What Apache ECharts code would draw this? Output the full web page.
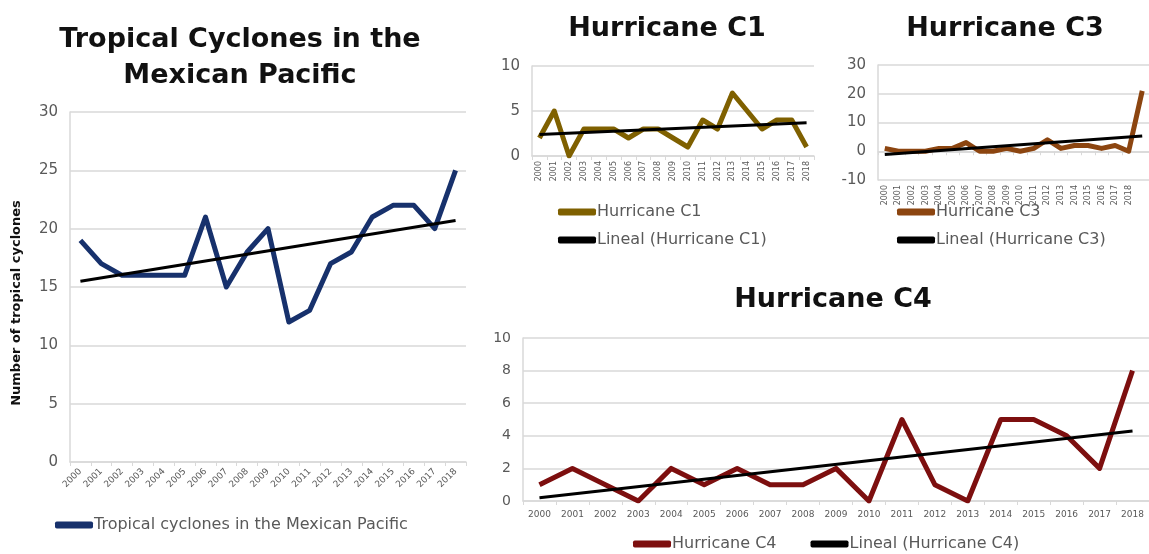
<!DOCTYPE html>
<html>
<head>
<meta charset="utf-8">
<script src="https://cdn.jsdelivr.net/npm/echarts@6/dist/echarts.min.js"></script>
<style>
html,body{margin:0;padding:0;background:#fff;overflow:hidden;}
#chart{width:1149px;height:554px;}
</style>
</head>
<body>
<div id="chart"></div>
<script>
// ---- data ----
const years = ['2000','2001','2002','2003','2004','2005','2006','2007','2008','2009','2010','2011','2012','2013','2014','2015','2016','2017','2018'];
const yearsC3 = ['2000','2001','2002','2003','2004','2005','2006','2007','2008','2009','2010','2011','2012','2013','2014','2015','2016','2017','2018','2019'];
const tropical = [19,17,16,16,16,16,21,15,18,20,12,13,17,18,21,22,22,20,25];
const tropicalTrend = [[0,15.5],[18,20.7]];
const c1 = [2,5,0,3,3,3,2,3,3,2,1,4,3,7,5,3,4,4,1];
const c1Trend = [[0,2.4],[18,3.7]];
const c3 = [1,0,0,0,1,1,3,0,0,1,0,1,4,1,2,2,1,2,0,21];
const c3Trend = [[0,-1.1],[19,5.3]];
const c4 = [1,2,1,0,2,1,2,1,1,2,0,5,1,0,5,5,4,2,8];
const c4Trend = [[0,0.2],[18,4.3]];

const FONT = 'DejaVu Sans';
const GRAY = '#595959';
const GRID = '#d9d9d9';

function xAx(idx, cats, rotate, size, margin, interval){
  return {type:'category', gridIndex:idx, data:cats, boundaryGap:true,
    axisLine:{show:true, onZero:true, lineStyle:{color:GRID, width:1.5}},
    axisTick:{show:true, length:4, lineStyle:{color:GRID}},
    axisLabel:{rotate:rotate, fontSize:size, color:GRAY, fontFamily:FONT, margin:margin,
      interval: interval === undefined ? 0 : interval}};
}
function yAx(idx, min, max, interval, size, extra){
  return Object.assign({type:'value', gridIndex:idx, min:min, max:max, interval:interval,
    axisLine:{show:true, lineStyle:{color:GRID, width:1.5}},
    axisTick:{show:false},
    splitLine:{lineStyle:{color:GRID, width:1.5}},
    axisLabel:{fontSize:size, color:GRAY, fontFamily:FONT, margin:12}}, extra||{});
}
function dataSeries(name, idx, data, color){
  return {name:name, type:'line', xAxisIndex:idx, yAxisIndex:idx, data:data, color:color,
    showSymbol:false, symbol:'none', lineStyle:{width:5, color:color, join:'round'}, z:2, animation:false};
}
function trendSeries(name, idx, data){
  return {name:name, type:'line', xAxisIndex:idx, yAxisIndex:idx, data:data, color:'#000',
    showSymbol:false, symbol:'none', lineStyle:{width:3, color:'#000'}, z:3, animation:false};
}
const legendBase = {icon:'roundRect', itemWidth:38, itemHeight:7, padding:0,
  textStyle:{color:GRAY, fontSize:16, fontFamily:FONT, padding:[0,0,0,-4]}, selectedMode:false};

const titleStyle = {fontFamily:FONT, fontWeight:'bold', fontSize:27, color:'#111'};

const option = {
  animation:false,
  title:[
    {text:'Tropical Cyclones in the\nMexican Pacific', left:235, top:17, textAlign:'center',
      textStyle:Object.assign({}, titleStyle, {lineHeight:36})},
    {text:'Hurricane C1', left:662, top:10, textAlign:'center', textStyle:titleStyle},
    {text:'Hurricane C3', left:1000, top:10, textAlign:'center', textStyle:titleStyle},
    {text:'Hurricane C4', left:828, top:281, textAlign:'center', textStyle:titleStyle}
  ],
  grid:[
    {left:70, top:112, width:396, height:350},
    {left:532, top:66, width:282, height:90},
    {left:878, top:65, width:278, height:115},
    {left:523, top:338, width:631, height:163}
  ],
  xAxis:[
    xAx(0, years, 45, 9, 8),
    xAx(1, years, 90, 8, 5),
    xAx(2, yearsC3, 90, 8, 5, function(i){ return i < yearsC3.length - 1; }),
    xAx(3, years, 0, 9, 9)
  ],
  yAxis:[
    yAx(0, 0, 30, 5, 15, {name:'Number of tropical cyclones', nameLocation:'middle', nameRotate:90, nameGap:47,
      nameTextStyle:{fontFamily:FONT, fontWeight:'bold', fontSize:13, color:'#111', padding:[0,32,0,0]}}),
    yAx(1, 0, 10, 5, 15),
    yAx(2, -10, 30, 10, 15),
    yAx(3, 0, 10, 2, 14)
  ],
  legend:[
    Object.assign({}, legendBase, {left:55, top:517, data:['Tropical cyclones in the Mexican Pacific']}),
    Object.assign({}, legendBase, {left:558, top:204, orient:'vertical', itemGap:12, data:['Hurricane C1','Lineal (Hurricane C1)']}),
    Object.assign({}, legendBase, {left:897, top:204, orient:'vertical', itemGap:12, data:['Hurricane C3','Lineal (Hurricane C3)']}),
    Object.assign({}, legendBase, {left:633, top:536, orient:'horizontal', itemGap:34, data:['Hurricane C4','Lineal (Hurricane C4)']})
  ],
  series:[
    dataSeries('Tropical cyclones in the Mexican Pacific', 0, tropical, '#17316c'),
    trendSeries('Trend tropical', 0, tropicalTrend),
    dataSeries('Hurricane C1', 1, c1, '#7f6000'),
    trendSeries('Lineal (Hurricane C1)', 1, c1Trend),
    dataSeries('Hurricane C3', 2, c3, '#8c4510'),
    trendSeries('Lineal (Hurricane C3)', 2, c3Trend),
    dataSeries('Hurricane C4', 3, c4, '#7d0f0f'),
    trendSeries('Lineal (Hurricane C4)', 3, c4Trend)
  ]
};
const chart = echarts.init(document.getElementById('chart'), null, {renderer:'canvas'});
chart.setOption(option);
</script>
</body>
</html>
